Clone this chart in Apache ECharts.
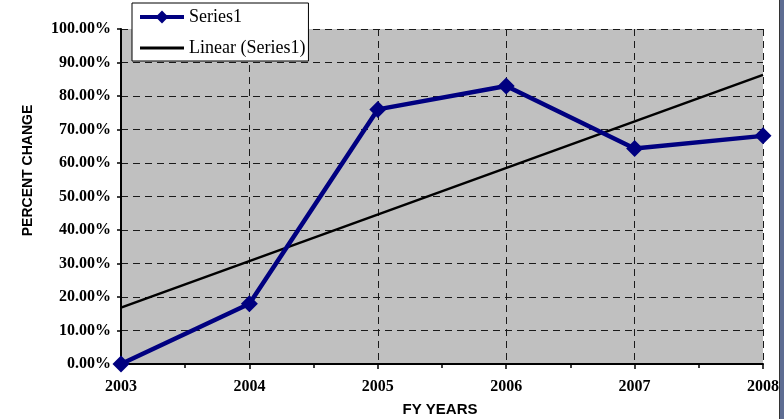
<!DOCTYPE html>
<html>
<head>
<meta charset="utf-8">
<script src="https://cdn.jsdelivr.net/npm/echarts@6/dist/echarts.min.js"></script>
<style>
  html, body { margin: 0; padding: 0; background: #ffffff; }
  #chart { width: 784px; height: 419px; }
</style>
</head>
<body>
<div id="chart"></div>
<script>
// Fiscal years and percent change per year
const years = [2003, 2004, 2005, 2006, 2007, 2008];
const percentChange = [0, 18, 76, 83, 64.3, 68.1];
const yTicks = [0, 10, 20, 30, 40, 50, 60, 70, 80, 90, 100];

// Least-squares linear trend over the series
function linearFit(xs, ys) {
  const n = xs.length;
  const mx = xs.reduce((a, b) => a + b, 0) / n;
  const my = ys.reduce((a, b) => a + b, 0) / n;
  let sxy = 0, sxx = 0;
  for (let i = 0; i < n; i++) {
    sxy += (xs[i] - mx) * (ys[i] - my);
    sxx += (xs[i] - mx) * (xs[i] - mx);
  }
  const slope = sxy / sxx;
  const intercept = my - slope * mx;
  return x => intercept + slope * x;
}
const trend = linearFit(years, percentChange);
const trendPoints = [years[0], years[years.length - 1]].map(x => [x, trend(x)]);

const serif = '"Liberation Serif", "Times New Roman", serif';
const sans = '"Liberation Sans", Arial, sans-serif';

const chart = echarts.init(document.getElementById('chart'), null, { renderer: 'canvas' });
chart.setOption({
  animation: false,
  backgroundColor: '#ffffff',
  grid: {
    left: 121, right: 21, top: 29, bottom: 55,
    outerBoundsMode: 'none', containLabel: false,
    show: true, backgroundColor: '#c0c0c0', borderWidth: 0
  },
  legend: {
    orient: 'vertical',
    left: 132, top: 3,
    backgroundColor: '#ffffff',
    borderColor: '#000000', borderWidth: 1, borderRadius: 0,
    padding: [5, 3, 4, 6],
    itemWidth: 44, itemHeight: 16, itemGap: 13,
    symbolKeepAspect: true,
    textStyle: { fontFamily: serif, fontSize: 18, color: '#000000' },
    data: [
      { name: 'Series1', lineStyle: { width: 4, color: '#000080' } },
      { name: 'Linear (Series1)', icon: 'path://M0,0 L44,0 L44,3 L0,3 Z', itemStyle: { color: '#000000' } }
    ]
  },
  xAxis: {
    type: 'value',
    min: years[0], max: years[years.length - 1], interval: 1,
    name: 'FY YEARS', nameLocation: 'middle', nameGap: 38,
    nameTextStyle: { fontFamily: sans, fontSize: 15, fontWeight: 'bold', color: '#000000', padding: [0, 0, 0, -4] },
    axisLine: { show: true, onZero: false, lineStyle: { color: '#000000', width: 2 } },
    axisTick: { show: true, length: 5, lineStyle: { color: '#000000', width: 1.5 } },
    minorTick: { show: true, splitNumber: 2, length: 4, lineStyle: { color: '#000000', width: 1.5 } },
    axisLabel: {
      fontFamily: serif, fontSize: 16, fontWeight: 'bold', color: '#000000', margin: 15,
      formatter: v => String(v)
    },
    splitLine: { show: true, lineStyle: { color: '#1a1a1a', type: [7, 5], width: 1 } }
  },
  yAxis: {
    type: 'value',
    min: yTicks[0], max: yTicks[yTicks.length - 1], interval: 10,
    name: 'PERCENT CHANGE', nameLocation: 'middle', nameGap: 86, nameRotate: 90,
    nameTextStyle: { fontFamily: sans, fontSize: 14, fontWeight: 'bold', color: '#000000', padding: [0, 0, 0, 52] },
    axisLine: { show: true, lineStyle: { color: '#000000', width: 2 } },
    axisTick: { show: true, length: 4, lineStyle: { color: '#000000', width: 1.5 } },
    axisLabel: {
      fontFamily: serif, fontSize: 16, fontWeight: 'bold', color: '#000000', margin: 10,
      formatter: v => v.toFixed(2) + '%'
    },
    splitLine: { show: true, lineStyle: { color: '#1a1a1a', type: [7, 5], width: 1 } }
  },
  series: [
    {
      name: 'Series1',
      type: 'line',
      data: years.map((y, i) => [y, percentChange[i]]),
      symbol: 'diamond', symbolSize: 17,
      itemStyle: { color: '#000080' },
      lineStyle: { color: '#000080', width: 4.5 },
      z: 3
    },
    {
      name: 'Linear (Series1)',
      type: 'line',
      data: trendPoints,
      symbol: 'none',
      itemStyle: { color: '#000000' },
      lineStyle: { color: '#000000', width: 2.5 },
      z: 2
    }
  ],
  graphic: [
    {
      type: 'rect', right: 0, top: 0,
      shape: { width: 4, height: 419 },
      style: { fill: '#5d6c92' }
    },
    {
      type: 'rect', left: 779, top: 0,
      shape: { width: 1, height: 419 },
      style: { fill: '#333333' }
    }
  ]
});
</script>
</body>
</html>
